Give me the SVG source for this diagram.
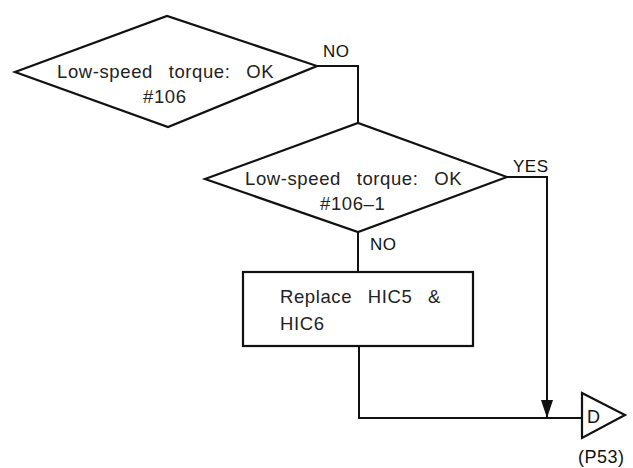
<svg xmlns="http://www.w3.org/2000/svg" width="633" height="468" viewBox="0 0 633 468">
<defs>
<style>
.s{fill:#fff;stroke:#111;stroke-width:2.2;stroke-linejoin:miter}
.c{fill:none;stroke:#111;stroke-width:2}
.t{font-family:"Liberation Sans",Arial,sans-serif;font-size:18.5px;letter-spacing:0.6px;word-spacing:10px;fill:#222}
.l{font-family:"Liberation Sans",Arial,sans-serif;font-size:17px;letter-spacing:0.5px;fill:#111}
.k{font-family:"Liberation Sans",Arial,sans-serif;font-size:18px;letter-spacing:0.5px;fill:#111}
</style>
<marker id="ah" viewBox="0 0 18 12" refX="18" refY="6" markerWidth="18" markerHeight="12" markerUnits="userSpaceOnUse" orient="auto"><path d="M0,0 L18,6 L0,12 Z" fill="#111"/></marker>
</defs>
<rect width="633" height="468" fill="#fff"/>
<g id="connectors">
<polyline class="c" points="317,66 358,66 358,123"/>
<polyline class="c" points="507,177 547,177 547,418" marker-end="url(#ah)"/>
<line class="c" x1="358" y1="232" x2="358" y2="272"/>
<polyline class="c" points="359,346 359,418 582,418"/>
<text class="l" x="323" y="57">NO</text>
<text class="l" x="513" y="172">YES</text>
<text class="l" x="370" y="250">NO</text>
</g>
<g id="d1">
<polygon class="s" points="15,72 167,16 317,66 168,127"/>
<text class="t" x="57" y="78">Low-speed torque: OK</text>
<text class="t" x="143" y="103">#106</text>
</g>
<g id="d2">
<polygon class="s" points="205,179 358,123 507,177 358,232"/>
<text class="t" x="245" y="185">Low-speed torque: OK</text>
<text class="t" x="320" y="210">#106–1</text>
</g>
<g id="r1">
<rect class="s" x="243" y="272" width="230" height="74"/>
<text class="t" x="280" y="303">Replace HIC5 &amp;</text>
<text class="t" x="280" y="330">HIC6</text>
</g>
<g id="term">
<polygon class="s" points="582,393 625,415 582,438"/>
<text class="k" x="587" y="423">D</text>
<text class="k" x="578" y="463">(P53)</text>
</g>
</svg>
